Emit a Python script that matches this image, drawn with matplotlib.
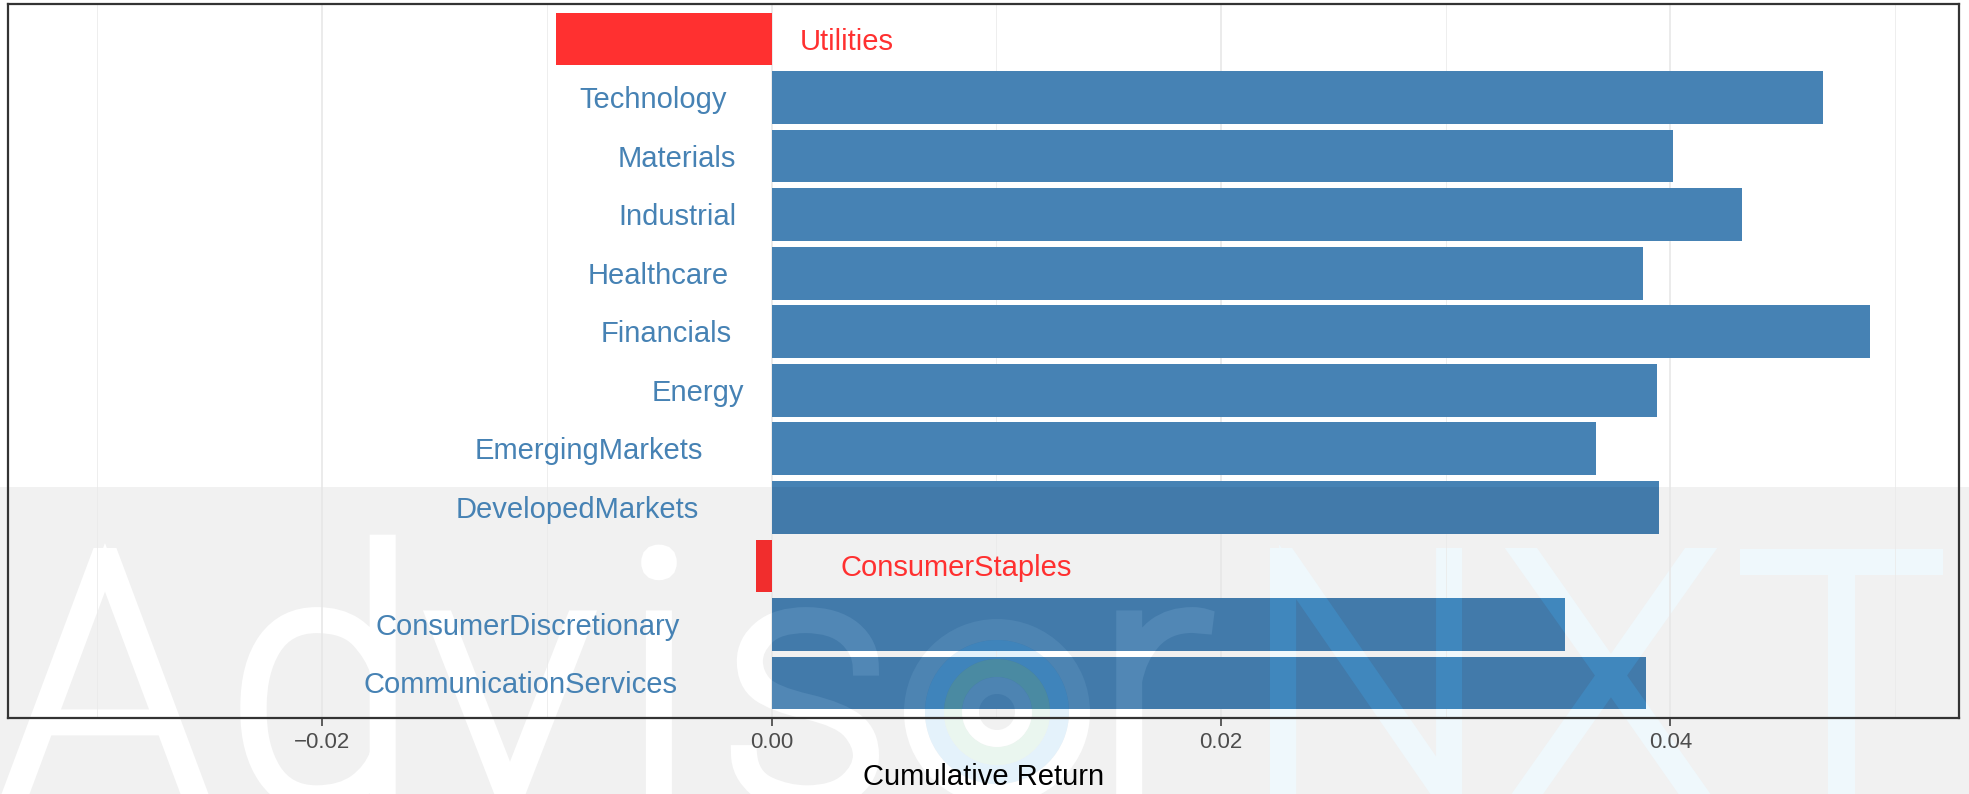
import matplotlib
matplotlib.use('Agg')
import matplotlib.pyplot as plt
import matplotlib.transforms as mtransforms
from matplotlib.font_manager import FontProperties
from matplotlib.patches import PathPatch, Rectangle, Wedge
from matplotlib.path import Path
from matplotlib.textpath import TextPath

plt.rcParams['font.family'] = ['Liberation Sans', 'DejaVu Sans']

# sectors from bottom to top
sectors = ['CommunicationServices', 'ConsumerDiscretionary', 'ConsumerStaples',
           'DevelopedMarkets', 'EmergingMarkets', 'Energy', 'Financials',
           'Healthcare', 'Industrial', 'Materials', 'Technology', 'Utilities']
returns = [0.0389, 0.0353, -0.0007, 0.0395, 0.0367, 0.0394, 0.0489,
           0.0388, 0.0432, 0.0401, 0.0468, -0.0096]

xticks = [-0.02, 0.0, 0.02, 0.04]
xticklabels = ['\u22120.02', '0.00', '0.02', '0.04']
minor_ticks = [-0.03, -0.01, 0.01, 0.03, 0.05]

pos_color = '#4682B4'
neg_color = '#FF3030'

W, H = 1969, 794
fig = plt.figure(figsize=(W / 100, H / 100), dpi=100)
ax = fig.add_axes([8 / W, 76 / H, 1951 / W, 714 / H])
ax.set_facecolor('none')

ypos = list(range(len(sectors)))
colors = [pos_color if v > 0 else neg_color for v in returns]
bars = ax.barh(ypos, returns, height=0.9, color=colors, zorder=2)

ax.set_xlim(-0.03398, 0.05285)
ax.set_ylim(-0.6, len(sectors) - 0.4)
ax.set_xticks(xticks)
ax.set_xticklabels(xticklabels)
ax.set_xticks(minor_ticks, minor=True)
ax.set_yticks([])
ax.grid(axis='x', which='major', color='#e6e6e6', lw=1.1)
ax.grid(axis='x', which='minor', color='#ebebeb', lw=0.6)
ax.set_axisbelow(True)
ax.tick_params(axis='x', which='major', length=5.5, width=1.1, color='#333333',
               labelcolor='#4d4d4d', labelsize=16, pad=4.5)
ax.tick_params(axis='x', which='minor', length=0)
for s in ax.spines.values():
    s.set_color('#333333')
    s.set_linewidth(1.6)
ax.set_xlabel('Cumulative Return', fontsize=21, labelpad=7.5)

# labels sit beside zero, pushed out by 30% of their own width
renderer = fig.canvas.get_renderer()
for y, name, v, c in zip(ypos, sectors, returns, colors):
    t = ax.text(0, y, name, color=c, fontsize=21, va='center',
                ha='right' if v > 0 else 'left', zorder=4)
    w = t.get_window_extent(renderer).width
    shift = -0.3 * w if v > 0 else 0.3 * w
    t.set_transform(mtransforms.offset_copy(ax.transData, fig=fig, x=shift, y=-2.5, units='dots'))

# ---- watermark ----
px = mtransforms.IdentityTransform()
band_top = 487
fig.add_artist(Rectangle((0, 0), W, H - band_top, transform=px,
                         facecolor='#f1f1f1', edgecolor='none', zorder=-2))

blue_bars = [b for b, v in zip(bars, returns) if v > 0]
all_clip = Path.make_compound_path(*[b.get_path().transformed(b.get_patch_transform()) for b in bars])
blue_clip = Path.make_compound_path(*[b.get_path().transformed(b.get_patch_transform()) for b in blue_bars])

wm_font = FontProperties(family=['Roboto', 'Liberation Sans'], weight='light')
thick = 17  # px of outline added to the thin face
cap = TextPath((0, 0), 'H', size=100, prop=wm_font).get_extents().height
scale = (260 - thick) / cap
baseline = H - 548 - thick / 2 - (260 - thick)


def letter_path(ch, xc):
    p = TextPath((0, 0), ch, size=100, prop=wm_font)
    ext = p.get_extents()
    tr = mtransforms.Affine2D().scale(scale).translate(xc - (ext.x0 + ext.x1) / 2 * scale, baseline)
    return tr.transform_path(p)


def letter(ch, xc, color, z):
    return PathPatch(letter_path(ch, xc), transform=px, facecolor=color, edgecolor=color,
                     linewidth=thick * 72 / 100, joinstyle='miter', zorder=z)


white_letters = [('A', 105), ('d', 318), ('v', 510), ('i', 659), ('s', 805), ('r', 1165)]
blue_letters = [('N', 1366), ('X', 1611), ('T', 1841)]
logo_c = (997, H - 712)
rings = [(93, 21, 'white', '#4d84b2'),
         (72, 19, '#e4f2fb', '#3f84bb'),
         (53, 18, '#eaf6ef', '#4a8aa2'),
         (35, 17, 'white', '#4d84b2')]

# under the axes: visible on the grey band
for ch, xc in white_letters:
    fig.add_artist(letter(ch, xc, 'white', -1))
for ch, xc in blue_letters:
    fig.add_artist(letter(ch, xc, '#eff8fc', -1))
for r, wd, c, _ in rings:
    fig.add_artist(Wedge(logo_c, r, 0, 360, width=wd, transform=px, facecolor=c,
                         edgecolor='none', zorder=-1))

# on top of the bars: darken the band, then the tinted letters
shade = Rectangle((0, 0), W, H - band_top, transform=px, facecolor='black',
                  alpha=0.055, edgecolor='none', zorder=8)
fig.add_artist(shade)
shade.set_clip_path(all_clip, ax.transData)
for ch, xc in white_letters:
    a = fig.add_artist(letter(ch, xc, '#5187b5', 9))
    a.set_clip_path(blue_clip, ax.transData)
for ch, xc in blue_letters:
    a = fig.add_artist(letter(ch, xc, '#4087bd', 9))
    a.set_clip_path(blue_clip, ax.transData)
for r, wd, _, c in rings:
    a = fig.add_artist(Wedge(logo_c, r, 0, 360, width=wd, transform=px, facecolor=c,
                             edgecolor='none', zorder=9))
    a.set_clip_path(blue_clip, ax.transData)

fig.savefig('out.png', dpi=100)
